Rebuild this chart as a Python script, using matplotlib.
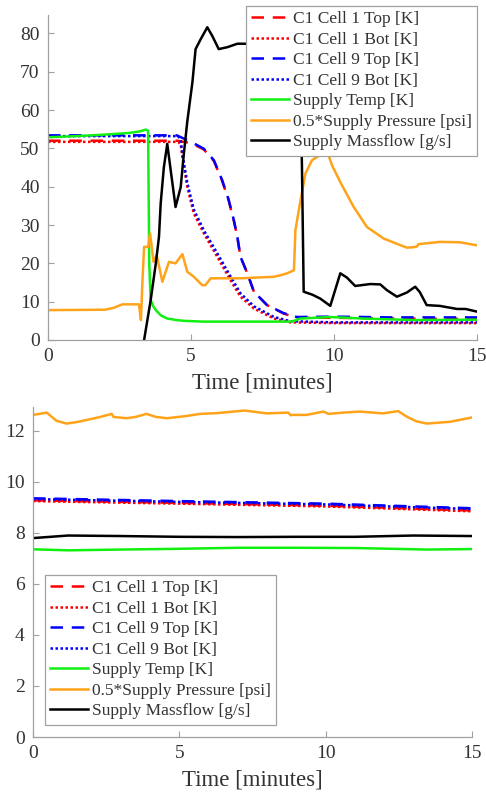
import matplotlib
matplotlib.use("Agg")
import matplotlib.pyplot as plt

plt.rcParams['font.family'] = ['Liberation Serif', 'DejaVu Serif']

labels = ["C1 Cell 1 Top [K]", "C1 Cell 1 Bot [K]", "C1 Cell 9 Top [K]", "C1 Cell 9 Bot [K]",
          "Supply Temp [K]", "0.5*Supply Pressure [psi]", "Supply Massflow [g/s]"]

# ---------------- Top panel data ----------------
t_top_cells = [0, 4.5, 5.0, 5.45, 5.8, 6.09, 6.32, 6.5, 6.62, 6.73, 6.97, 7.2, 7.66, 8.24, 8.7, 10, 12, 15]
cell1_top = [52.0, 52.0, 51.4, 49.7, 46.7, 41.5, 36.3, 31.0, 26.9, 21.7, 17.4, 12.6, 9.1, 6.9, 5.8, 5.8, 5.6, 5.5]
cell9_top = [53.4, 53.4, 51.7, 49.9, 46.9, 41.7, 36.5, 31.2, 26.9, 21.7, 17.4, 12.6, 9.1, 7.0, 6.0, 6.1, 5.9, 5.9]

t_bot_cells = [0, 4.55, 4.64, 4.7, 4.87, 5.1, 5.45, 5.92, 6.38, 6.73, 7.2, 7.9, 8.48, 10, 15]
cell1_bot = [51.7, 51.7, 51.0, 47.7, 39.9, 33.0, 27.8, 21.7, 15.6, 11.3, 8.2, 5.6, 4.6, 4.4, 4.4]
cell9_bot = [53.2, 53.2, 52.0, 48.5, 41.0, 34.0, 28.6, 22.6, 16.6, 12.2, 8.8, 6.0, 4.9, 4.6, 4.6]

t_temp = [0, 1.0, 2.0, 2.8, 3.2, 3.42, 3.5, 3.54, 3.59, 3.68, 3.77, 3.95, 4.17, 4.5, 4.75, 5.4,
          8.5, 8.6, 8.82, 9.87, 11.0, 12.8, 15]
supply_temp = [52.9, 53.2, 53.6, 54.0, 54.4, 54.9, 54.6, 20.0, 10.4, 8.8, 7.8, 6.4, 5.6, 5.2, 5.0, 4.8,
               4.8, 5.0, 5.6, 6.0, 5.6, 5.2, 5.3]

t_press = [0, 2.0, 2.3, 2.6, 3.18, 3.22, 3.25, 3.3, 3.36, 3.5, 3.57, 3.69, 3.8, 4.0, 4.23, 4.46, 4.7,
           4.87, 5.1, 5.39, 5.5, 5.69, 6.73, 7.9, 8.13, 8.36, 8.6, 8.65, 8.77, 9.0, 9.23, 9.58, 9.81,
           9.93, 10.22, 10.69, 11.15, 11.73, 12.3, 12.55, 12.78, 12.9, 12.95, 13.7, 14.4, 15.0]
supply_press = [7.8, 7.9, 8.4, 9.3, 9.3, 7.0, 5.2, 15.0, 24.3, 24.3, 27.8, 20.4, 22.1, 15.2, 20.4, 20.0, 22.4,
                17.8, 16.5, 14.3, 14.3, 16.1, 16.1, 16.5, 16.9, 17.4, 18.2, 28.6, 33.9, 43.4, 46.9, 48.6, 48.2,
                45.6, 41.2, 34.7, 29.5, 26.5, 24.8, 24.1, 24.2, 24.4, 25.0, 25.6, 25.5, 24.7]

t_flow = [3.36, 3.59, 3.77, 3.88, 3.94, 4.05, 4.17, 4.29, 4.46, 4.64, 4.75, 4.87, 5.05, 5.16, 5.34, 5.57,
          5.74, 5.97, 6.27, 6.62, 7.02, 7.8, 8.5, 8.8, 8.88, 8.94, 9.25, 9.52, 9.87, 10.22, 10.45, 10.74,
          11.27, 11.62, 11.85, 12.2, 12.55, 12.84, 13.0, 13.24, 13.7, 14.3, 14.6, 15.0]
supply_flow = [0.0, 10.4, 20.0, 26.9, 35.6, 45.0, 51.2, 44.3, 34.7, 39.9, 48.6, 57.0, 67.3, 75.9, 78.5, 81.6,
               79.4, 75.9, 76.4, 77.3, 77.3, 77.5, 77.5, 76.5, 45.0, 12.6, 11.8, 10.8, 8.9, 17.4, 16.3, 14.1,
               14.6, 14.5, 13.0, 11.3, 12.4, 13.9, 12.5, 9.1, 8.9, 8.1, 8.1, 7.4]

# ---------------- Bottom panel data ----------------
t_b_cells = [0, 5, 10, 15]
cell1_top_b = [9.28, 9.18, 9.07, 8.88]
cell1_bot_b = [9.25, 9.15, 9.04, 8.85]
cell9_top_b = [9.36, 9.25, 9.15, 8.97]
cell9_bot_b = [9.33, 9.22, 9.12, 8.94]

t_b_temp = [0, 1.2, 3, 5, 7, 9, 11, 13.5, 15]
supply_temp_b = [7.36, 7.32, 7.35, 7.38, 7.42, 7.42, 7.41, 7.35, 7.37]

t_b_flow = [0, 1.2, 3, 5, 7, 9, 11, 13, 15]
supply_flow_b = [7.8, 7.9, 7.88, 7.85, 7.84, 7.85, 7.85, 7.9, 7.88]

t_b_press = [0, 0.47, 0.8, 1.15, 1.5, 1.83, 2.3, 2.69, 2.75, 3.2, 3.5, 3.88, 4.2, 4.57, 5.2, 5.71, 6.3,
             6.84, 7.24, 7.98, 8.72, 8.8, 8.9, 9.35, 9.92, 10.1, 10.6, 11.17, 11.97, 12.48, 12.77, 13.1,
             13.45, 14.25, 15.0]
supply_press_b = [12.63, 12.72, 12.4, 12.29, 12.35, 12.43, 12.55, 12.67, 12.55, 12.5, 12.55, 12.67, 12.55,
                  12.5, 12.58, 12.67, 12.7, 12.76, 12.8, 12.69, 12.72, 12.62, 12.63, 12.63, 12.76, 12.67,
                  12.72, 12.76, 12.69, 12.78, 12.56, 12.38, 12.29, 12.36, 12.53]

RED, BLUE, GREEN, ORANGE, BLACK = '#ff0000', '#0000ff', '#11f011', '#ffa31a', '#000000'
DASH = (0, (5, 3.5))
DOT = (0, (1, 1))
LW = 1.8
SPINE = '#a0a0a0'
TXT = '#333333'

fig = plt.figure(figsize=(4.86, 7.95), dpi=100)


def style(ax, xlim, ylim, yticks):
    ax.set_xlim(*xlim)
    ax.set_ylim(*ylim)
    ax.set_xticks([0, 5, 10, 15])
    ax.set_yticks(yticks)
    for s in ['top', 'right']:
        ax.spines[s].set_visible(False)
    for s in ['left', 'bottom']:
        ax.spines[s].set_color(SPINE)
        ax.spines[s].set_linewidth(0.9)
    ax.tick_params(direction='in', length=4, width=0.8, color=SPINE, labelcolor=TXT, labelsize=14, pad=6)
    ax.set_xlabel('Time [minutes]', fontsize=16.5, color=TXT, labelpad=5)


def draw(ax, series):
    for (t, v, c, ls), lab in zip(series, labels):
        ax.plot(t, v, color=c, linestyle=ls, lw=LW, label=lab)


def legend(ax, loc, anchor):
    leg = ax.legend(loc=loc, bbox_to_anchor=anchor, bbox_transform=fig.transFigure, borderaxespad=0,
                    fontsize=12.5, frameon=True, fancybox=False, framealpha=1, edgecolor=SPINE,
                    labelspacing=0.25, handlelength=2.2, handletextpad=0.2, borderpad=0.3)
    leg.get_frame().set_linewidth(0.9)
    for txt in leg.get_texts():
        txt.set_color(TXT)
    return leg


ax1 = fig.add_axes([48 / 486, 1 - 340 / 795, 429 / 486, 325 / 795])
draw(ax1, [
    (t_top_cells, cell1_top, RED, DASH),
    (t_bot_cells, cell1_bot, RED, DOT),
    (t_top_cells, cell9_top, BLUE, DASH),
    (t_bot_cells, cell9_bot, BLUE, DOT),
    (t_temp, supply_temp, GREEN, '-'),
    (t_press, supply_press, ORANGE, '-'),
    (t_flow, supply_flow, BLACK, '-'),
])
style(ax1, (0, 15), (0, 84.8), range(0, 81, 10))
legend(ax1, 'upper right', (477 / 486, 1 - 6 / 795))

ax2 = fig.add_axes([33 / 486, 1 - 737 / 795, 439 / 486, 330 / 795])
draw(ax2, [
    (t_b_cells, cell1_top_b, RED, DASH),
    (t_b_cells, cell1_bot_b, RED, DOT),
    (t_b_cells, cell9_top_b, BLUE, DASH),
    (t_b_cells, cell9_bot_b, BLUE, DOT),
    (t_b_temp, supply_temp_b, GREEN, '-'),
    (t_b_press, supply_press_b, ORANGE, '-'),
    (t_b_flow, supply_flow_b, BLACK, '-'),
])
style(ax2, (0, 15), (0, 12.94), range(0, 13, 2))
legend(ax2, 'upper left', (45 / 486, 1 - 575 / 795))

fig.savefig('out.png', dpi=100)
